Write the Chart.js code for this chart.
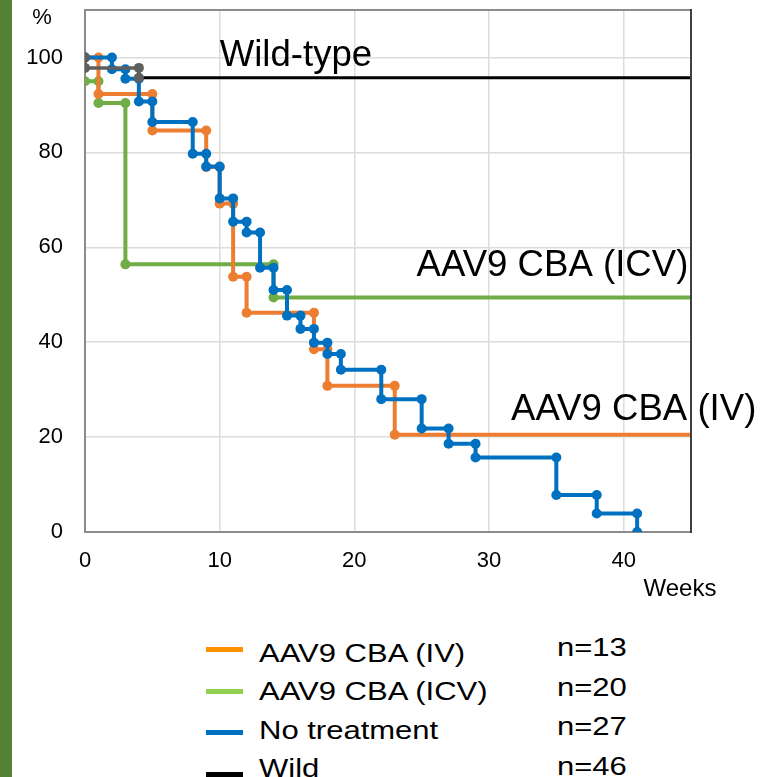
<!DOCTYPE html>
<html>
<head>
<meta charset="utf-8">
<script src="https://cdn.jsdelivr.net/npm/chart.js@4/dist/chart.umd.min.js"></script>
<style>
  html, body { margin: 0; padding: 0; background: #fff; }
  body { width: 763px; height: 777px; position: relative; overflow: hidden;
         font-family: "Liberation Sans", Arial, sans-serif; }
  #bar { position: absolute; left: 0; top: 0; width: 12px; height: 777px; background: #548235; }
  #plot { position: absolute; left: 0; top: 0; }
  .sw { position: absolute; left: 206px; width: 37px; height: 5px; }
  .txt { position: absolute; font-size: 25px; line-height: 25px; color: #000; white-space: nowrap;
         transform: scaleX(1.24); transform-origin: 0 50%; }
</style>
</head>
<body>
<div id="bar"></div>
<canvas id="plot" width="763" height="610"></canvas>
<div id="legend"></div>
<script>
// Survival (%) after each event; first entry is the starting level.
const ivWeeks   = [0, 1, 5, 9, 10, 11, 12, 17, 18, 23];
const ivSurv    = [100, 92.3, 84.6, 76.9, 69.2, 53.8, 46.2, 38.5, 30.8, 20.5];

const icvWeeks  = [0, 1, 3, 14];
const icvSurv   = [95, 90.4, 56.4, 49.4];

const ntWeeks   = [0, 2, 3, 4, 5, 8, 9, 10, 11, 12, 13, 14, 15, 16, 17, 18, 19, 22, 25, 27, 29, 35, 38, 41];
const ntSurv    = [100, 97.5, 95.5, 90.7, 86.4, 79.7, 77.0, 70.3, 65.4, 63.1, 55.7, 51.0, 45.6, 42.8, 39.9, 37.5, 34.2, 28.0, 21.8, 18.6, 15.7, 7.8, 3.9, 0];

const wildWeeks = [0, 0, 4];
const wildSurv  = [100, 97.8, 95.7];

const followUpEnd = 45;

const xTicks = [0, 10, 20, 30, 40];
const yTicks = [0, 20, 40, 60, 80, 100];

const legendNames  = ['AAV9 CBA (IV)', 'AAV9 CBA (ICV)', 'No treatment', 'Wild'];
const legendCounts = [13, 20, 27, 46];

// Turn event times / levels into step-curve corner points.
function kmPoints(weeks, surv, end) {
  const pts = [{ x: weeks[0], y: surv[0], dot: true }];
  for (let i = 1; i < weeks.length; i++) {
    pts.push({ x: weeks[i], y: surv[i - 1], dot: true });
    pts.push({ x: weeks[i], y: surv[i], dot: true });
  }
  const last = weeks[weeks.length - 1];
  if (end > last) pts.push({ x: end, y: surv[surv.length - 1], dot: false });
  return pts;
}

const FONT = '"Liberation Sans", Arial, sans-serif';
const C_IV = '#ED7D31', C_ICV = '#70AD47', C_NT = '#0070C0', C_WILD = '#5F5F5F';

function series(label, pts, color, order) {
  return {
    label, data: pts, order,
    borderColor: color, backgroundColor: color,
    borderWidth: 4, tension: 0,
    pointRadius: c => (c.raw && c.raw.dot === false) ? 0 : 5,
    pointBackgroundColor: color, pointBorderWidth: 0, pointHoverRadius: 0
  };
}

const wild = series('Wild', kmPoints(wildWeeks, wildSurv, followUpEnd), C_WILD, 0);
wild.borderWidth = 3.5;
wild.segment = {
  borderColor: c => (c.p1.raw && c.p1.raw.dot === false) ? '#000' : C_WILD,
  borderWidth: c => (c.p1.raw && c.p1.raw.dot === false) ? 3 : 3.5
};

const notes = {
  id: 'notes',
  afterDraw(chart) {
    const { ctx, chartArea: a, scales: { x, y } } = chart;
    ctx.save();
    // top and right frame
    ctx.lineWidth = 2;
    ctx.strokeStyle = '#8C8C8C';
    ctx.beginPath(); ctx.moveTo(a.left, a.top); ctx.lineTo(a.right, a.top); ctx.stroke();
    ctx.strokeStyle = '#404040';
    ctx.beginPath(); ctx.moveTo(a.right, a.top - 1); ctx.lineTo(a.right, a.bottom + 1); ctx.stroke();

    ctx.fillStyle = '#000';
    ctx.font = '36.6px ' + FONT;
    ctx.textBaseline = 'alphabetic';
    ctx.textAlign = 'left';
    ctx.fillText('Wild-type', x.getPixelForValue(10), y.getPixelForValue(98.1));
    ctx.textAlign = 'right';
    ctx.fillText('AAV9 CBA (ICV)', x.getPixelForValue(44.8), y.getPixelForValue(54));
    ctx.fillText('AAV9 CBA (IV)', x.getPixelForValue(49.85), y.getPixelForValue(23.5));

    ctx.textAlign = 'center';
    ctx.textBaseline = 'middle';
    ctx.font = '22px ' + FONT;
    ctx.fillText('%', a.left - 43, a.top + 8);
    ctx.font = '24px ' + FONT;
    ctx.fillText('Weeks', a.right - 11, a.bottom + 57);
    ctx.restore();
  }
};

new Chart(document.getElementById('plot'), {
  type: 'line',
  data: {
    datasets: [
      wild,
      series('No treatment', kmPoints(ntWeeks, ntSurv, 41), C_NT, 1),
      series('AAV9 CBA (IV)', kmPoints(ivWeeks, ivSurv, followUpEnd), C_IV, 2),
      series('AAV9 CBA (ICV)', kmPoints(icvWeeks, icvSurv, followUpEnd), C_ICV, 3)
    ]
  },
  options: {
    responsive: false,
    animation: false,
    devicePixelRatio: 1,
    layout: { padding: { top: 10, right: 72, bottom: 0, left: 0 } },
    plugins: { legend: { display: false }, tooltip: { enabled: false } },
    scales: {
      x: {
        type: 'linear', min: 0, max: followUpEnd,
        afterBuildTicks: s => { s.ticks = xTicks.map(v => ({ value: v })); },
        afterFit: s => { s.height = 78; s.paddingLeft = 0; s.paddingRight = 0; },
        grid: { color: '#DCDCDC', lineWidth: 1.5, drawTicks: false },
        border: { display: true, color: '#8C8C8C', width: 2 },
        ticks: { padding: 16, color: '#000', font: { size: 22, family: FONT } }
      },
      y: {
        type: 'linear', min: 0, max: 110,
        afterBuildTicks: s => { s.ticks = yTicks.map(v => ({ value: v })); },
        afterFit: s => { s.width = 85; s.paddingTop = 0; s.paddingBottom = 0; },
        grid: { color: '#DCDCDC', lineWidth: 1.5, drawTicks: false },
        border: { display: true, color: '#8C8C8C', width: 2 },
        ticks: { padding: 22, color: '#000', font: { size: 22, family: FONT } }
      }
    }
  },
  plugins: [notes]
});

// Legend with group sizes
const legendColors = ['#FF9000', '#92D050', '#0070C0', '#000000'];
const lg = document.getElementById('legend');
legendNames.forEach((name, i) => {
  const sw = document.createElement('div');
  sw.className = 'sw';
  sw.style.background = legendColors[i];
  sw.style.top = (647 + i * 41.5) + 'px';
  lg.appendChild(sw);

  const t = document.createElement('div');
  t.className = 'txt';
  t.style.left = '259px';
  t.style.top = (641 + i * 38.3) + 'px';
  t.textContent = name;
  lg.appendChild(t);

  const n = document.createElement('div');
  n.className = 'txt';
  n.style.left = '557px';
  n.style.top = (635 + i * 39.6) + 'px';
  n.textContent = 'n=' + legendCounts[i];
  lg.appendChild(n);
});
</script>
</body>
</html>
